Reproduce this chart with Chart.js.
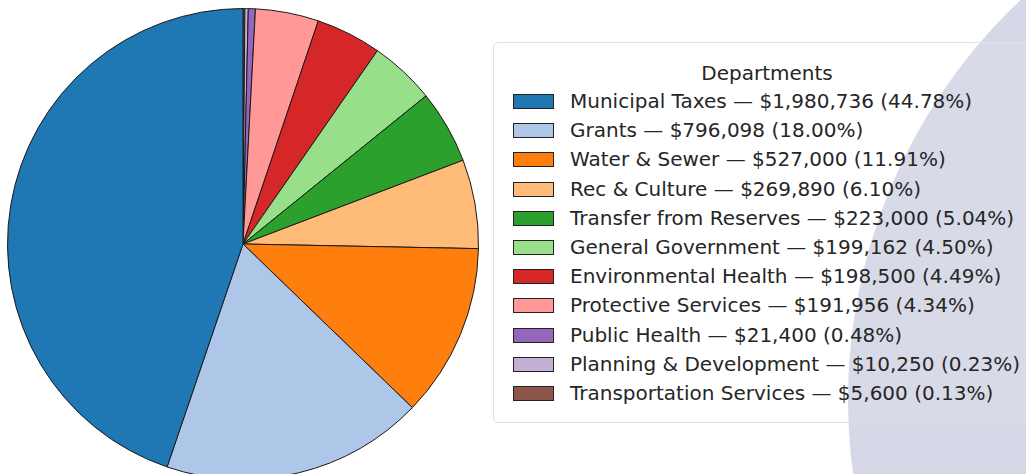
<!DOCTYPE html>
<html lang="en">
<head>
    <meta charset="UTF-8">
    <title>Departments</title>
    <script src="https://cdn.jsdelivr.net/npm/chart.js"></script>
    <style>
        html, body { margin: 0; padding: 0; width: 1026px; height: 474px; overflow: hidden; background: #fff; font-family: "DejaVu Sans", sans-serif; }
        #blob { position: absolute; left: 848px; top: -150px; width: 1100px; height: 1100px; border-radius: 50%; background: #d6d8e7; }
        #pieBox { position: absolute; left: 0; top: 0; width: 486px; height: 488px; }
        #legenda { position: absolute; left: 493px; top: 42px; width: 560px; height: 381px; border: 1.5px solid #e2e2e2; border-radius: 5px; background: rgba(255,255,255,0.05); box-sizing: border-box; color: #262626; }
        #legenda .titolo { position: absolute; left: 0; top: 18px; width: 546px; text-align: center; font-size: 20px; }
        #legenda .voce { position: absolute; left: 19px; height: 20px; font-size: 20px; white-space: nowrap; line-height: 20px; }
        #legenda .sw { display: inline-block; width: 39px; height: 13px; border: 1.3px solid #222; vertical-align: middle; margin-right: 16px; position: relative; top: -1px; }
    </style>
</head>
<body>
    <div id="blob"></div>
    <div id="pieBox"><canvas id="torta"></canvas></div>
    <div id="legenda"></div>

    <script>
        const reparti = ['Municipal Taxes', 'Grants', 'Water & Sewer', 'Rec & Culture', 'Transfer from Reserves',
            'General Government', 'Environmental Health', 'Protective Services', 'Public Health',
            'Planning & Development', 'Transportation Services'];
        const importi = [1980736, 796098, 527000, 269890, 223000, 199162, 198500, 191956, 21400, 10250, 5600];
        const colori = ['#1f77b4', '#aec7e8', '#ff7f0e', '#ffbb78', '#2ca02c', '#98df8a', '#d62728', '#ff9896',
            '#9467bd', '#c5b0d5', '#8c564b'];

        const totale = importi.reduce((a, b) => a + b, 0);

        // legenda
        const leg = document.getElementById('legenda');
        leg.innerHTML = '<div class="titolo">Departments</div>';
        reparti.forEach((r, i) => {
            const pct = (importi[i] / totale * 100).toFixed(2);
            const d = document.createElement('div');
            d.className = 'voce';
            d.style.top = (48 + i * 29.2) + 'px';
            d.innerHTML = '<span class="sw" style="background:' + colori[i] + '"></span>' +
                r.replace('&', '&amp;') + ' \u2014 $' + importi[i].toLocaleString('en-US') + ' (' + pct + '%)';
            leg.appendChild(d);
        });

        // matplotlib gira in senso antiorario: invertiamo l'ordine
        const ctx = document.getElementById('torta').getContext('2d');
        new Chart(ctx, {
            type: 'pie',
            data: {
                labels: reparti.slice().reverse(),
                datasets: [{
                    data: importi.slice().reverse(),
                    backgroundColor: colori.slice().reverse(),
                    borderColor: '#1a1a1a',
                    borderWidth: 1
                }]
            },
            options: {
                responsive: true,
                maintainAspectRatio: false,
                animation: false,
                layout: { padding: 7 },
                plugins: {
                    legend: { display: false },
                    tooltip: { enabled: false }
                }
            }
        });
    </script>
</body>
</html>
